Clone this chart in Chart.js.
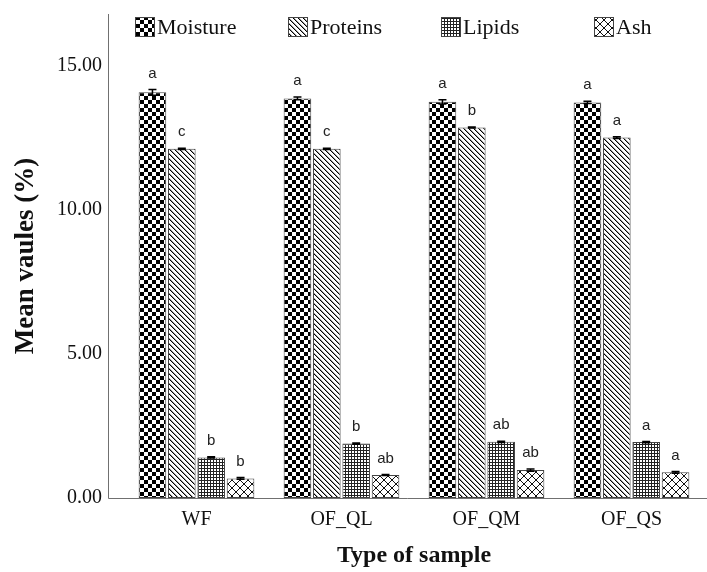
<!DOCTYPE html>
<html>
<head>
<meta charset="utf-8">
<script src="https://cdn.jsdelivr.net/npm/chart.js@4.4.1/dist/chart.umd.min.js"></script>
<style>
  html, body { margin: 0; padding: 0; background: #ffffff; }
  #wrap { width: 707px; height: 572px; }
</style>
</head>
<body>
<div id="wrap"><canvas id="c" width="707" height="572"></canvas></div>
<script>
// ---- data ----
const categories = ["WF", "OF_QL", "OF_QM", "OF_QS"];
const seriesNames = ["Moisture", "Proteins", "Lipids", "Ash"];
const moisture = [14.08, 13.87, 13.75, 13.73];
const proteins = [12.12, 12.12, 12.86, 12.51];
const lipids   = [1.41, 1.89, 1.95, 1.94];
const ash      = [0.68, 0.80, 0.97, 0.89];
const moistureSD = [0.10, 0.05, 0.07, 0.04];
const proteinsSD = [0.02, 0.02, 0.02, 0.03];
const lipidsSD   = [0.02, 0.02, 0.02, 0.02];
const ashSD      = [0.03, 0.02, 0.04, 0.03];
const moistureLetters = ["a", "a", "a", "a"];
const proteinsLetters = ["c", "c", "b", "a"];
const lipidsLetters   = ["b", "b", "ab", "a"];
const ashLetters      = ["b", "ab", "ab", "a"];
const yTickValues = [0, 5, 10, 15];

// ---- patterns ----
function makePattern(kind) {
  const t = document.createElement('canvas');
  const g = t.getContext('2d');
  let s;
  if (kind === 'checker') {
    s = 8; t.width = s; t.height = s;
    g.fillStyle = '#fff'; g.fillRect(0, 0, s, s);
    g.fillStyle = '#000'; g.fillRect(0, 0, 4, 4); g.fillRect(4, 4, 4, 4);
  } else if (kind === 'diag') {
    s = 5; t.width = s; t.height = s;
    g.fillStyle = '#fff'; g.fillRect(0, 0, s, s);
    for (let i = 0; i < s; i++) {
      g.fillStyle = '#000'; g.fillRect(i, i, 1, 1);
      g.fillStyle = '#999'; g.fillRect((i + 1) % s, i, 1, 1);
    }
  } else if (kind === 'grid') {
    s = 3; t.width = s; t.height = s;
    g.fillStyle = '#fff'; g.fillRect(0, 0, s, s);
    g.fillStyle = '#222'; g.fillRect(0, 0, s, 1); g.fillRect(0, 0, 1, s);
  } else {
    s = 8; t.width = s; t.height = s;
    g.fillStyle = '#fff'; g.fillRect(0, 0, s, s);
    g.fillStyle = '#111';
    for (let i = 0; i < s; i++) { g.fillRect(i, i, 1, 1); g.fillRect(s - 1 - i, i, 1, 1); }
  }
  const ctx = document.getElementById('c').getContext('2d');
  return ctx.createPattern(t, 'repeat');
}
const patterns = [makePattern('checker'), makePattern('diag'), makePattern('grid'), makePattern('cross')];
const seriesValues = [moisture, proteins, lipids, ash];
const seriesSD = [moistureSD, proteinsSD, lipidsSD, ashSD];
const seriesLetters = [moistureLetters, proteinsLetters, lipidsLetters, ashLetters];

const SERIF = '"Liberation Serif", "Times New Roman", serif';
const SANS = '"Liberation Sans", Arial, sans-serif';

const datasets = seriesNames.map((name, i) => ({
  label: name,
  data: seriesValues[i],
  sd: seriesSD[i],
  letters: seriesLetters[i],
  backgroundColor: patterns[i],
  borderColor: '#444',
  borderWidth: 1,
  borderSkipped: false,
  barPercentage: 0.94,
  categoryPercentage: 0.81
}));

const extras = {
  id: 'extras',
  afterDatasetsDraw(chart) {
    const ctx = chart.ctx;
    const y = chart.scales.y;
    ctx.save();
    chart.data.datasets.forEach((ds, di) => {
      const meta = chart.getDatasetMeta(di);
      meta.data.forEach((bar, j) => {
        const v = ds.data[j], sd = ds.sd[j];
        const yTop = y.getPixelForValue(v + sd);
        const yBot = y.getPixelForValue(v - sd);
        ctx.strokeStyle = '#000';
        ctx.lineWidth = 1.5;
        ctx.beginPath();
        ctx.moveTo(bar.x, yTop); ctx.lineTo(bar.x, yBot);
        ctx.moveTo(bar.x - 4, yTop); ctx.lineTo(bar.x + 4, yTop);
        ctx.moveTo(bar.x - 4, yBot); ctx.lineTo(bar.x + 4, yBot);
        ctx.stroke();
        ctx.fillStyle = '#222';
        ctx.font = '15px ' + SANS;
        ctx.textAlign = 'center';
        ctx.textBaseline = 'middle';
        ctx.fillText(ds.letters[j], bar.x, yTop - 16);
      });
    });
    // axis lines
    const a = chart.chartArea;
    const axX = a.left - 16;
    ctx.strokeStyle = '#707070';
    ctx.lineWidth = 1;
    ctx.beginPath();
    ctx.moveTo(axX + 0.5, a.top);
    ctx.lineTo(axX + 0.5, a.bottom + 0.5);
    ctx.lineTo(chart.width, a.bottom + 0.5);
    ctx.stroke();
    ctx.restore();
  },
  afterDraw(chart) {
    const ctx = chart.ctx;
    ctx.save();
    chart.data.datasets.forEach((ds, i) => {
      const x = 135 + i * 153;
      const by = 17;
      ctx.fillStyle = ds.backgroundColor;
      ctx.fillRect(x, by, 20, 20);
      ctx.strokeStyle = '#444';
      ctx.lineWidth = 1;
      ctx.strokeRect(x + 0.5, by + 0.5, 19, 19);
      ctx.fillStyle = '#111';
      ctx.font = '22px ' + SERIF;
      ctx.textAlign = 'left';
      ctx.textBaseline = 'middle';
      ctx.fillText(ds.label, x + 22, by + 11);
    });
    ctx.restore();
  }
};

new Chart(document.getElementById('c'), {
  type: 'bar',
  data: { labels: categories, datasets },
  options: {
    responsive: false,
    animation: false,
    devicePixelRatio: 1,
    layout: { padding: { top: 14, right: 3, left: 0, bottom: 0 } },
    plugins: { legend: { display: false }, tooltip: { enabled: false } },
    scales: {
      x: {
        type: 'category',
        offset: true,
        grid: { display: false, drawTicks: false },
        border: { display: false },
        ticks: { color: '#111', font: { family: SERIF, size: 20 }, padding: 10 },
        title: { display: true, text: 'Type of sample', color: '#111',
                 font: { family: SERIF, size: 24, weight: 'bold' }, padding: { top: 0, bottom: 2 } },
        afterFit: s => { s.height = 74; s.paddingLeft = 0; s.paddingRight = 0; }
      },
      y: {
        min: 0,
        max: 16.8,
        grid: { display: false, drawTicks: false },
        border: { display: false },
        afterBuildTicks: s => { s.ticks = yTickValues.map(v => ({ value: v })); },
        ticks: { color: '#111', font: { family: SERIF, size: 20 }, padding: 22,
                 callback: v => Number(v).toFixed(2) },
        title: { display: true, text: 'Mean vaules (%)', color: '#111',
                 font: { family: SERIF, size: 27, weight: 'bold' }, padding: { top: 10, bottom: 0 } },
        afterFit: s => { s.width = 124; s.paddingTop = 0; s.paddingBottom = 0; }
      }
    }
  },
  plugins: [extras]
});
</script>
</body>
</html>
